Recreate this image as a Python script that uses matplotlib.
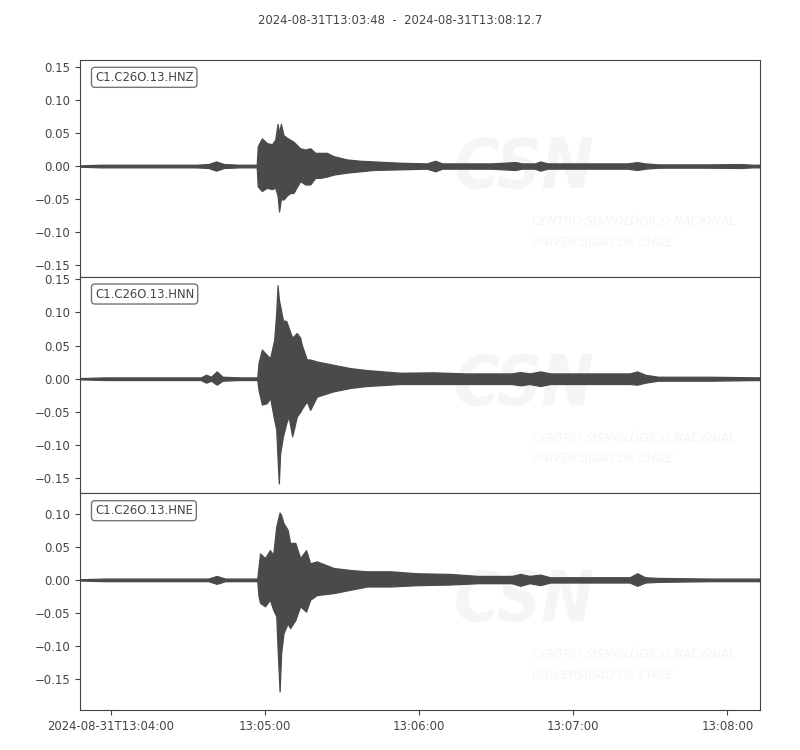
import matplotlib as mpl
import matplotlib.pyplot as plt
import matplotlib.dates as mdates
import numpy as np

mpl.use('Agg')

start = '2024-08-31T13:03:48'
end_sec = 264.7
title = '2024-08-31T13:03:48  -  2024-08-31T13:08:12.7'
labels = ['C1.C26O.13.HNZ', 'C1.C26O.13.HNN', 'C1.C26O.13.HNE']

# envelope of each trace (seconds after start, upper, lower)
t_hnz = [0, 8, 20, 45, 50, 53, 56, 62, 68.8, 69.2, 70.8, 72.7, 74.7, 76.0, 76.9, 77.5, 78.2, 79.2,
         80.5, 81.8, 83.1, 85.7, 87.7, 89.6, 91.6, 93.5, 96.1, 98.7, 103.9, 109.1, 114.3, 124.7,
         135, 138.3, 141, 160, 169.5, 172, 177, 179.2, 182, 200, 213, 216.9, 220, 225, 245, 257,
         262, 264.7]
hi_hnz = [0.001, 0.002, 0.002, 0.002, 0.003, 0.007, 0.003, 0.002, 0.002, 0.030, 0.042, 0.035,
          0.033, 0.040, 0.064, 0.050, 0.064, 0.047, 0.043, 0.040, 0.037, 0.027, 0.025, 0.027,
          0.020, 0.020, 0.020, 0.015, 0.010, 0.008, 0.007, 0.005, 0.004, 0.008, 0.004, 0.004,
          0.006, 0.004, 0.004, 0.007, 0.004, 0.004, 0.004, 0.006, 0.004, 0.0025, 0.0025, 0.003,
          0.002, 0.002]
lo_hnz = [-0.001, -0.002, -0.002, -0.002, -0.003, -0.007, -0.003, -0.002, -0.002, -0.031, -0.038,
          -0.033, -0.035, -0.033, -0.045, -0.069, -0.050, -0.051, -0.045, -0.041, -0.041, -0.023,
          -0.028, -0.028, -0.018, -0.018, -0.016, -0.013, -0.010, -0.008, -0.006, -0.005, -0.004,
          -0.008, -0.004, -0.004, -0.006, -0.004, -0.004, -0.007, -0.004, -0.004, -0.004, -0.006,
          -0.004, -0.0025, -0.0025, -0.003, -0.002, -0.002]

t_hnn = [0, 10, 30, 47, 49.1, 51, 53.2, 55.5, 62, 69.0, 69.5, 70.8, 72.7, 74.0, 75.6, 76.4, 76.9,
         77.4, 77.9, 79.0, 80.3, 81.2, 82.6, 84.4, 85.7, 86.4, 88.3, 89.6, 92.2, 98.7, 105.2, 111.7,
         124.7, 137.6, 150, 168, 171.4, 175, 179.2, 183, 200, 214, 216.9, 220, 225, 245, 264.7]
hi_hnn = [0.001, 0.002, 0.002, 0.002, 0.006, 0.003, 0.011, 0.003, 0.002, 0.002, 0.024, 0.044,
          0.036, 0.031, 0.059, 0.100, 0.141, 0.120, 0.110, 0.088, 0.087, 0.077, 0.062, 0.069,
          0.062, 0.050, 0.029, 0.029, 0.026, 0.021, 0.016, 0.013, 0.009, 0.0096, 0.008, 0.008,
          0.010, 0.008, 0.011, 0.008, 0.008, 0.008, 0.011, 0.006, 0.003, 0.003, 0.002]
lo_hnn = [-0.001, -0.002, -0.002, -0.002, -0.006, -0.003, -0.009, -0.003, -0.002, -0.002, -0.017,
          -0.039, -0.037, -0.029, -0.062, -0.077, -0.120, -0.158, -0.113, -0.087, -0.067, -0.057,
          -0.087, -0.057, -0.050, -0.045, -0.034, -0.047, -0.027, -0.019, -0.014, -0.011, -0.008,
          -0.008, -0.008, -0.008, -0.010, -0.008, -0.011, -0.008, -0.008, -0.008, -0.009, -0.006,
          -0.003, -0.003, -0.002]

t_hne = [0, 10, 30, 50, 53.2, 56.5, 62, 69.0, 69.5, 70.1, 72.0, 73.9, 75.2, 76.4, 77.0, 77.7, 78.3,
         79.2, 80.8, 81.8, 83.8, 85.7, 88.0, 89.6, 92.2, 98.7, 105.2, 111.7, 120.8, 131.2, 144.2,
         155, 168, 171.4, 175, 179.2, 183, 200, 214, 216.9, 220, 225, 245, 264.7]
hi_hne = [0.001, 0.002, 0.002, 0.002, 0.006, 0.002, 0.002, 0.002, 0.020, 0.040, 0.033, 0.045,
          0.038, 0.081, 0.091, 0.102, 0.098, 0.086, 0.076, 0.056, 0.056, 0.033, 0.045, 0.025,
          0.028, 0.018, 0.015, 0.013, 0.013, 0.010, 0.009, 0.006, 0.006, 0.009, 0.006, 0.008,
          0.004, 0.004, 0.004, 0.010, 0.004, 0.003, 0.002, 0.002]
lo_hne = [-0.001, -0.002, -0.002, -0.002, -0.006, -0.002, -0.002, -0.002, -0.025, -0.035, -0.040,
          -0.030, -0.045, -0.055, -0.111, -0.169, -0.111, -0.081, -0.066, -0.073, -0.061, -0.040,
          -0.048, -0.030, -0.023, -0.020, -0.015, -0.010, -0.010, -0.008, -0.007, -0.005, -0.005,
          -0.009, -0.005, -0.008, -0.004, -0.004, -0.004, -0.009, -0.004, -0.003, -0.002, -0.002]

ylims = [(-0.168, 0.161), (-0.173, 0.154), (-0.197, 0.131)]
yticks = [[-0.15, -0.10, -0.05, 0.0, 0.05, 0.10, 0.15],
          [-0.15, -0.10, -0.05, 0.0, 0.05, 0.10, 0.15],
          [-0.15, -0.10, -0.05, 0.0, 0.05, 0.10]]
tick_times = ['2024-08-31T13:04:00', '2024-08-31T13:05:00', '2024-08-31T13:06:00',
              '2024-08-31T13:07:00', '2024-08-31T13:08:00']
tick_labels = ['2024-08-31T13:04:00', '13:05:00', '13:06:00', '13:07:00', '13:08:00']

GREY = '#444444'
TRACE = '#4a4a4a'
MARK = '#f5f5f5'
FS = 8.4


def to_time(secs):
    ms = (np.asarray(secs) * 1000).astype('int64').astype('timedelta64[ms]')
    return np.datetime64(start, 'ms') + ms


def main():
    plt.rcParams['font.family'] = ['DejaVu Sans']
    plt.rcParams['text.color'] = GREY
    plt.rcParams['axes.edgecolor'] = GREY
    plt.rcParams['xtick.color'] = GREY
    plt.rcParams['ytick.color'] = GREY

    fig, axes = plt.subplots(3, 1, sharex=True, figsize=(8, 7.5), dpi=100)
    fig.subplots_adjust(left=0.1, right=0.95, top=0.92, bottom=0.0533, hspace=0)

    traces = [(t_hnz, hi_hnz, lo_hnz), (t_hnn, hi_hnn, lo_hnn), (t_hne, hi_hne, lo_hne)]
    for ax, (t, hi, lo), lab, yl, yt in zip(axes, traces, labels, ylims, yticks):
        # faint CSN watermark
        ax.text(0.55, 0.50, 'CSN', transform=ax.transAxes, fontsize=50, fontstyle='italic',
                fontweight='bold', fontstretch='condensed', color=MARK,
                ha='left', va='center', zorder=0, clip_on=True)
        ax.text(0.665, 0.255, 'CENTRO SISMOLÓGICO NACIONAL', transform=ax.transAxes,
                fontsize=9.5, fontstyle='italic', fontstretch='condensed', color=MARK,
                ha='left', va='center', zorder=0, clip_on=True)
        ax.text(0.665, 0.16, 'UNIVERSIDAD DE CHILE', transform=ax.transAxes,
                fontsize=9.5, fontstyle='italic', fontstretch='condensed', color=MARK,
                ha='left', va='center', zorder=0, clip_on=True)

        x = to_time(t)
        ax.fill_between(x, lo, hi, color=TRACE, lw=0.9, zorder=2)
        ax.set_ylim(*yl)
        ax.set_yticks(yt)
        ax.tick_params(labelsize=FS)
        ax.text(0.022, 0.95, lab, transform=ax.transAxes, ha='left', va='top', fontsize=FS,
                color=GREY, zorder=5,
                bbox=dict(boxstyle='round,pad=0.3', fc='white', ec='#666666', alpha=0.9))

    axes[0].set_xlim(to_time(0), to_time(end_sec))
    ticks = mdates.date2num(np.array(tick_times, dtype='datetime64[s]'))
    axes[-1].set_xticks(ticks)
    axes[-1].set_xticklabels(tick_labels)
    for ax in axes[:-1]:
        ax.tick_params(axis='x', bottom=False, labelbottom=False)

    fig.suptitle(title, y=0.973, va='center', fontsize=FS, color=GREY)
    fig.savefig('out.png')


if __name__ == '__main__':
    main()
